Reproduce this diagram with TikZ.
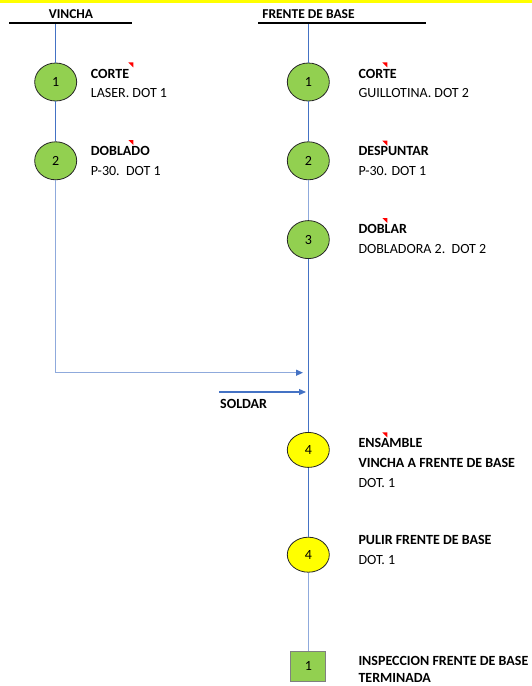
\documentclass[tikz,border=0pt]{standalone}
\usepackage{fontspec}
\setmainfont{Carlito}
\usetikzlibrary{shapes.geometric,arrows.meta,positioning}
\definecolor{stepgreen}{HTML}{92D050}
\definecolor{stepyellow}{HTML}{FFFF00}
\definecolor{lineblue}{HTML}{4472C4}
\definecolor{paleblue}{HTML}{8FAADC}

\begin{document}
\begin{tikzpicture}[
    x=1pt, y=-1pt,
    opgreen/.style={ellipse, draw=black!85, fill=stepgreen, line width=0.8pt, minimum width=42pt, minimum height=38pt, inner sep=0pt, font=\fontsize{14}{16}\selectfont},
    opyellow/.style={opgreen, fill=stepyellow, minimum height=35pt},
    inspect/.style={rectangle, draw=black!50, fill=stepgreen, line width=0.8pt, minimum width=35pt, minimum height=30pt, inner sep=0pt, font=\fontsize{14}{16}\selectfont},
    lbl/.style={anchor=north west, inner sep=0pt, align=left, font=\fontsize{14}{20}\selectfont},
    head/.style={anchor=base, inner sep=0pt, font=\fontsize{13.5}{16}\selectfont\bfseries},
    flow/.style={draw=lineblue, line width=1.2pt},
    arrow/.style={flow, -{Triangle[length=7pt, width=6pt, color=lineblue]}}
]
\useasboundingbox (0,0) rectangle (532,686);
\fill[stepyellow] (0,0) rectangle (532,3);

% Headers
\node[head] (hv) at (71,18.3) {VINCHA};
\node[head] (hf) at (308.5,18.3) {FRENTE DE BASE};
\draw[line width=1.5pt] (9.3,23) -- (131.7,23);
\draw[line width=1.5pt] (258,23) -- (426,23);

% Nodes
\node[opgreen] (v1) at (55.7,82) {1};
\node[opgreen, below=40pt of v1] (v2) {2};
\node[opgreen] (f1) at (308.3,82) {1};
\node[opgreen, below=40pt of f1] (f2) {2};
\node[opgreen, below=40pt of f2] (f3) {3};
\node[opyellow, below=173pt of f3] (y1) {4};
\node[opyellow, below=69pt of y1] (y2) {4};
\node[inspect, below=78pt of y2] (sq) {1};

\coordinate (vtop) at (55.7,24);
\coordinate (ftop) at (308.3,24);
\coordinate (joinend) at (303,372.7);
\coordinate (weldin) at (219,392);
\coordinate (weldend) at (306,392);

% Labels
\node[lbl, font=\fontsize{14}{18.5}\selectfont] (lv1) at (90.7,69.3) {\textbf{CORTE}\\LASER. DOT 1};
\node[lbl] (lv2) at (90.7,145.7) {\textbf{DOBLADO}\\P-30.~~DOT 1};
\node[lbl, font=\fontsize{14}{18.5}\selectfont] (lf1) at (358.3,69.3) {\textbf{CORTE}\\GUILLOTINA. DOT 2};
\node[lbl] (lf2) at (358.3,145.7) {\textbf{DESPUNTAR}\\P-30. DOT 1};
\node[lbl] (lf3) at (358.3,224) {\textbf{DOBLAR}\\DOBLADORA 2.~~DOT 2};
\node[lbl] (ly1) at (358.3,437.7) {\textbf{ENSAMBLE}\\\textbf{VINCHA A FRENTE DE BASE}\\DOT. 1};
\node[lbl] (ly2) at (358.3,535) {\textbf{PULIR FRENTE DE BASE}\\DOT. 1};
\node[lbl, font=\fontsize{14}{17}\selectfont] (lsq) at (358.3,656) {\textbf{INSPECCION FRENTE DE BASE}\\\textbf{TERMINADA}};
\node[lbl] (weld) at (220,399.3) {\textbf{SOLDAR}};

% Lines
\draw[flow] (vtop) -- (v1);
\draw[flow] (v1) -- (v2);
\draw[flow] (ftop) -- (f1);
\draw[flow] (f1) -- (f2);
\draw[flow, draw=paleblue] (f2) -- (f3);
\draw[flow] (f3) -- (y1);
\draw[flow] (y1) -- (y2);
\draw[flow, draw=paleblue] (y2) -- (sq);

% Arrows
\draw[arrow, draw=paleblue] (v2) |- (joinend);
\draw[arrow] (weldin) -- (weldend);

% comment marks
\foreach \x/\y in {133.3/62.3, 133.3/140, 387.3/62.3, 387.3/140.7, 387.3/218, 387.3/432.3}
  \fill[red] (\x-5,\y) -- (\x,\y) -- (\x,\y+5) -- cycle;

\end{tikzpicture}
\end{document}
